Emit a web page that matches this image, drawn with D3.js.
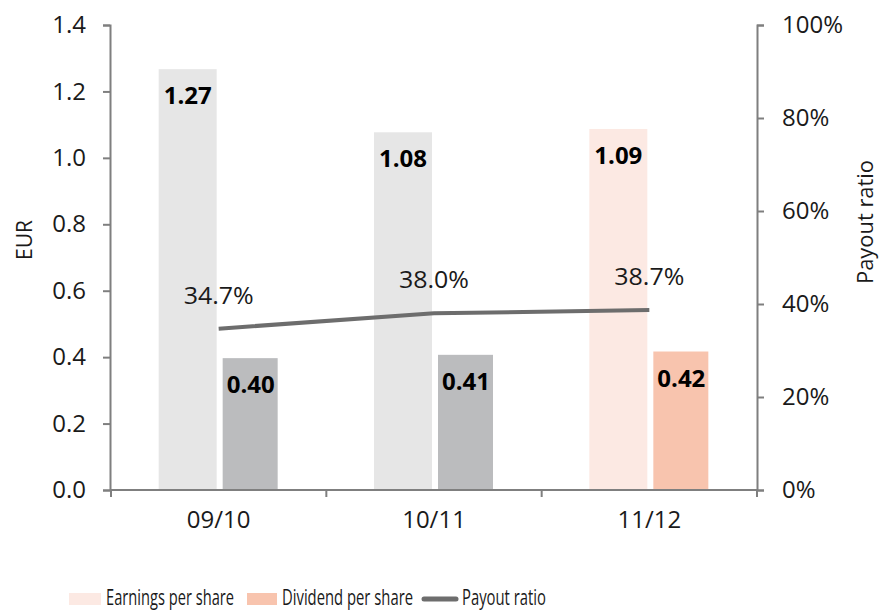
<!DOCTYPE html>
<html><head><meta charset="utf-8">
<script src="https://cdn.jsdelivr.net/npm/d3@7"></script>
<style>body{margin:0;background:#fff}text{font-family:"Open Sans","Noto Sans",sans-serif}</style>
</head><body><svg id="c" width="881" height="612"></svg>
<script>
const categories = ["09/10", "10/11", "11/12"];
const eps = [1.27, 1.08, 1.09];
const dps = [0.40, 0.41, 0.42];
const payout = [34.7, 38.0, 38.7];
const leftTicks = [0, 0.2, 0.4, 0.6, 0.8, 1.0, 1.2, 1.4];
const rightTicks = [0, 20, 40, 60, 80, 100];
const legendLabels = ["Earnings per share", "Dividend per share", "Payout ratio"];

const svg = d3.select("#c");
const L = 111, R = 757, T = 25, B = 490;
const x = d3.scaleBand().domain(categories).range([L, R]);
const y = d3.scaleLinear().domain([0, 1.4]).range([B, T]);
const y2 = d3.scaleLinear().domain([0, 100]).range([B, T]);
const bw = 60;
const epsCol = ["#e6e6e6", "#e6e6e6", "#fce9e3"];
const dpsCol = ["#bbbcbe", "#bbbcbe", "#f8c4ae"];
const axisCol = "#7f7f7f";
const txt = "#1a1a1a";

// bars
const g = svg.append("g");
categories.forEach((c, i) => {
  const cx = x(c) + x.bandwidth() / 2;
  g.append("rect").attr("x", cx - bw - 1).attr("y", y(eps[i])).attr("width", bw).attr("height", B - y(eps[i]))
    .attr("fill", epsCol[i]).attr("stroke", "#fff").attr("stroke-width", 2);
  g.append("rect").attr("x", cx + 3).attr("y", y(dps[i])).attr("width", bw - 3).attr("height", B - y(dps[i]))
    .attr("fill", dpsCol[i]).attr("stroke", "#fff").attr("stroke-width", 2);
  g.append("text").attr("x", cx - bw / 2 - 1).attr("y", y(eps[i]) + 36).attr("text-anchor", "middle")
    .attr("font-size", 24).attr("font-weight", "bold").attr("fill", "#000").text(eps[i].toFixed(2));
  g.append("text").attr("x", cx + 2 + bw / 2).attr("y", y(dps[i]) + 36).attr("text-anchor", "middle")
    .attr("font-size", 24).attr("font-weight", "bold").attr("fill", "#000").text(dps[i].toFixed(2));
});

// line
const line = d3.line().x((d, i) => x(categories[i]) + x.bandwidth() / 2).y(d => y2(d));
svg.append("path").datum(payout).attr("d", line).attr("fill", "none").attr("stroke", "#6d6d6d").attr("stroke-width", 4);
payout.forEach((p, i) => {
  svg.append("text").attr("x", x(categories[i]) + x.bandwidth() / 2).attr("y", y2(p) - 25)
    .attr("text-anchor", "middle").attr("font-size", 24).attr("fill", txt)
    .attr("textLength", 70).attr("lengthAdjust", "spacingAndGlyphs").text(p.toFixed(1) + "%");
});

// axes
function styleAxis(sel) {
  sel.selectAll(".domain").attr("stroke", axisCol).attr("stroke-width", 2);
  sel.selectAll(".tick line").attr("stroke", axisCol).attr("stroke-width", 2);
  sel.selectAll(".tick text").attr("font-size", 24).attr("fill", txt).attr("font-family", '"Open Sans","Noto Sans",sans-serif');
}
const ax = svg.append("g").attr("transform", `translate(${L - 1},0)`)
  .call(d3.axisLeft(y).tickValues(leftTicks).tickFormat(d3.format(".1f")).tickSize(7).tickSizeOuter(7).tickPadding(17));
styleAxis(ax);
const ar = svg.append("g").attr("transform", `translate(${R},0)`)
  .call(d3.axisRight(y2).tickValues(rightTicks).tickFormat(d => d + "%").tickSize(7).tickSizeOuter(7).tickPadding(18));
styleAxis(ar);
const bx = svg.append("g").attr("transform", `translate(0,${B})`)
  .call(d3.axisBottom(x).tickSize(0).tickPadding(21));
styleAxis(bx);
bx.select(".domain").attr("d", `M${L - 1},0H${R}`);
const bounds = categories.map(c => x(c)).concat([R]);
bx.selectAll(".bt").data(bounds).enter().append("line").attr("class", "bt")
  .attr("x1", d => d).attr("x2", d => d).attr("y1", 0).attr("y2", 7).attr("stroke", axisCol).attr("stroke-width", 2);

// axis titles
svg.append("text").attr("transform", "translate(32,240) rotate(-90)").attr("text-anchor", "middle")
  .attr("font-size", 21).attr("fill", txt).text("EUR");
svg.append("text").attr("transform", "translate(873,222) rotate(-90)").attr("text-anchor", "middle")
  .attr("font-size", 21).attr("fill", txt).attr("textLength", 124).attr("lengthAdjust", "spacingAndGlyphs").text("Payout ratio");

// legend
const ly = 599;
svg.append("rect").attr("x", 69).attr("y", ly - 6).attr("width", 32).attr("height", 12).attr("fill", "#fce9e3");
svg.append("text").attr("x", 106).attr("y", ly + 6).attr("font-size", 21).attr("fill", txt)
  .attr("textLength", 128).attr("lengthAdjust", "spacingAndGlyphs").text(legendLabels[0]);
svg.append("rect").attr("x", 247).attr("y", ly - 6).attr("width", 30).attr("height", 12).attr("fill", "#f8c4ae");
svg.append("text").attr("x", 282).attr("y", ly + 6).attr("font-size", 21).attr("fill", txt)
  .attr("textLength", 131).attr("lengthAdjust", "spacingAndGlyphs").text(legendLabels[1]);
svg.append("line").attr("x1", 424).attr("x2", 456).attr("y1", ly).attr("y2", ly).attr("stroke", "#6d6d6d").attr("stroke-width", 5).attr("stroke-linecap", "round");
svg.append("text").attr("x", 462).attr("y", ly + 6).attr("font-size", 21).attr("fill", txt)
  .attr("textLength", 84).attr("lengthAdjust", "spacingAndGlyphs").text(legendLabels[2]);
</script></body></html>
